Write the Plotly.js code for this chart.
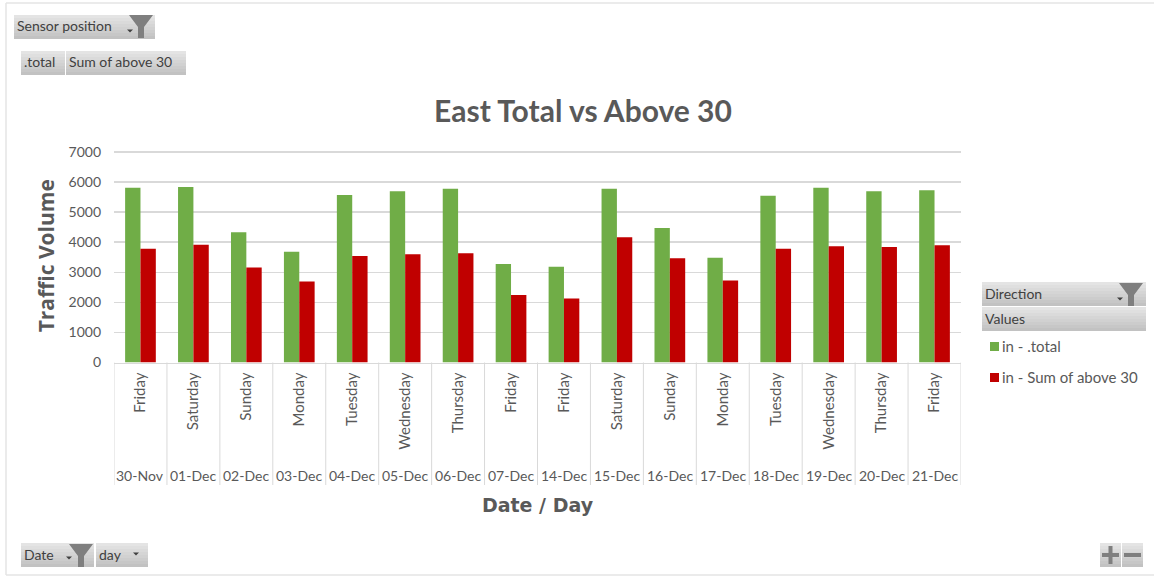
<!DOCTYPE html>
<html>
<head>
<meta charset="utf-8">
<script src="https://cdn.plot.ly/plotly-3.0.1.min.js"></script>
<style>html,body{margin:0;padding:0;background:#fff;overflow:hidden}#chart{width:1154px;height:577px}</style>
</head>
<body>
<div id="chart"></div>
<script>
const dates = ['30-Nov','01-Dec','02-Dec','03-Dec','04-Dec','05-Dec','06-Dec','07-Dec','14-Dec','15-Dec','16-Dec','17-Dec','18-Dec','19-Dec','20-Dec','21-Dec'];
const days = ['Friday','Saturday','Sunday','Monday','Tuesday','Wednesday','Thursday','Friday','Friday','Saturday','Sunday','Monday','Tuesday','Wednesday','Thursday','Friday'];
const totalValues = [5815,5838,4328,3685,5571,5693,5782,3274,3185,5782,4473,3485,5549,5815,5693,5727];
const above30Values = [3785,3918,3163,2697,3540,3596,3629,2242,2131,4162,3463,2730,3785,3862,3840,3896];
const seriesNames = ['in - .total','in - Sum of above 30'];
const seriesColors = ['#70AD47','#C00000'];
const yTicks = [0,1000,2000,3000,4000,5000,6000,7000];

const W = 1154, H = 577;
const FONT = 'Lato, "Open Sans", sans-serif';
const px = x => x / W;
const py = y => 1 - y / H;
const slots = dates.map((_, i) => i);

const shapes = [];
const annotations = [];

function rect(x0, y0, x1, y1, fill) {
  shapes.push({type:'rect', xref:'paper', yref:'paper', x0:px(x0), x1:px(x1), y0:py(y0), y1:py(y1),
    fillcolor:fill, line:{width:0}, layer:'below'});
}
function line(x0, y0, x1, y1, color, width) {
  shapes.push({type:'line', xref:'paper', yref:'paper', x0:px(x0), x1:px(x1), y0:py(y0), y1:py(y1),
    line:{color:color, width:width}, layer:'below'});
}
function path(points, fill) {
  const d = points.map((p, i) => (i ? 'L' : 'M') + px(p[0]) + ',' + py(p[1])).join(' ') + ' Z';
  shapes.push({type:'path', xref:'paper', yref:'paper', path:d, fillcolor:fill, line:{width:0}});
}
function label(text, x, y, size, color, anchor, extra) {
  annotations.push(Object.assign({text:text, xref:'paper', yref:'paper', x:px(x), y:py(y),
    xanchor:anchor || 'left', yanchor:'middle', showarrow:false,
    font:{family:FONT, size:size, color:color}}, extra || {}));
}

// Field buttons shaded from light grey at the top to mid grey at the bottom
function button(x0, y0, x1, y1, text, textX) {
  const bands = 8, top = [228,228,228], bottom = [194,194,194];
  for (let b = 0; b < bands; b++) {
    const t = b / (bands - 1);
    const c = top.map((v, k) => Math.round(v + (bottom[k] - v) * t));
    rect(x0, y0 + (y1 - y0) * b / bands, x1, y0 + (y1 - y0) * (b + 1) / bands, `rgb(${c.join(',')})`);
  }
  if (text) label(text, textX === undefined ? x0 + 1 : textX, (y0 + y1) / 2 - 1, 14, '#404040');
}
function funnel(cx, top) {
  path([[cx-12,top],[cx+12,top],[cx+3,top+12],[cx+3,top+23],[cx-3,top+23],[cx-3,top+12]], '#7f7f7f');
}
function caret(cx, cy) {
  path([[cx-3,cy-1.5],[cx+3,cy-1.5],[cx,cy+1.5]], '#404040');
}

// Outer frame of the chart sheet
line(6, 3, 1154, 3, '#e4e4e4', 1.5);
line(6, 3, 6, 575, '#e4e4e4', 1.5);
line(6, 575, 1154, 575, '#e4e4e4', 1.5);

// Report filter, value, axis and legend field buttons
button(14, 15, 155, 39, 'Sensor position');
caret(130, 31); funnel(141, 15);
button(21, 51, 65, 75, '.total');
button(66, 51, 186, 75, 'Sum of above 30');
button(982, 282, 1146, 306, 'Direction');
caret(1120, 299); funnel(1131, 283);
button(982, 307, 1146, 331, 'Values');
button(21, 543, 94, 567, 'Date');
caret(69, 558); funnel(81, 544);
button(96, 543, 148, 567, 'day');
caret(136, 554);

// Expand and collapse buttons
button(1100, 543, 1121, 567);
button(1122, 543, 1143, 567);
rect(1102, 553, 1119, 557, '#7f7f7f');
rect(1108.5, 546, 1112.5, 564, '#7f7f7f');
rect(1124, 553, 1141, 557, '#7f7f7f');

// Hand-placed legend entries, laid out like the pivot chart legend
rect(990, 342, 999, 351, seriesColors[0]);
rect(990, 373, 999, 382, seriesColors[1]);
label(seriesNames[0], 1000, 346, 15, '#595959');
label(seriesNames[1], 1000, 377, 15, '#595959');

// Category dividers below the plot and the outer date row
for (let i = 0; i <= dates.length; i++) {
  shapes.push({type:'line', xref:'x', yref:'paper', x0:i-0.5, x1:i-0.5, y0:py(485), y1:py(362.5),
    line:{color:'#d9d9d9', width:1}, layer:'below'});
}
dates.forEach((d, i) => {
  annotations.push({text:d, xref:'x', yref:'paper', x:i, y:py(475), xanchor:'center', yanchor:'middle',
    showarrow:false, font:{family:FONT, size:14, color:'#595959'}});
});

const traces = [totalValues, above30Values].map((vals, s) => ({
  type:'bar', x:slots, y:vals, name:seriesNames[s], marker:{color:seriesColors[s]}
}));

const layout = {
  width:W, height:H,
  margin:{l:0,r:0,t:0,b:0},
  paper_bgcolor:'#fff', plot_bgcolor:'#fff',
  barmode:'group', bargap:0.42, bargroupgap:0,
  showlegend:false,
  font:{family:FONT, color:'#595959'},
  title:{text:'<b>East Total vs Above 30</b>', x:583/W, xanchor:'center', y:py(111), yanchor:'middle',
    font:{family:FONT, size:30, color:'#595959'}},
  xaxis:{
    domain:[px(114), px(961)], range:[-0.5, dates.length-0.5], type:'linear', anchor:'y',
    tickmode:'array', tickvals:slots, ticktext:days, tickangle:-90, ticks:'', ticklen:0,
    showgrid:false, zeroline:false, showline:true, linecolor:'#d9d9d9', linewidth:1,
    ticklabelstandoff:3,
    tickfont:{family:FONT, size:15, color:'#595959'}, automargin:false,
    title:{text:'<b>Date / Day</b>', standoff:49, font:{family:'"DejaVu Sans", sans-serif', size:19, color:'#595959'}}
  },
  yaxis:{
    domain:[py(362.5), py(149)], range:[0,7100], anchor:'x',
    tickmode:'array', tickvals:yTicks, ticks:'', showline:false, zeroline:false,
    gridcolor:'#d9d9d9', gridwidth:1.5,
    ticklabelstandoff:12,
    tickfont:{family:FONT, size:14, color:'#595959'}, automargin:false,
    title:{text:'<b>Traffic Volume</b>', standoff:8, font:{family:'"Open Sans", sans-serif', size:21, color:'#595959'}}
  },
  shapes:shapes, annotations:annotations
};

Plotly.newPlot('chart', traces, layout, {displayModeBar:false, staticPlot:true});
</script>
</body>
</html>
